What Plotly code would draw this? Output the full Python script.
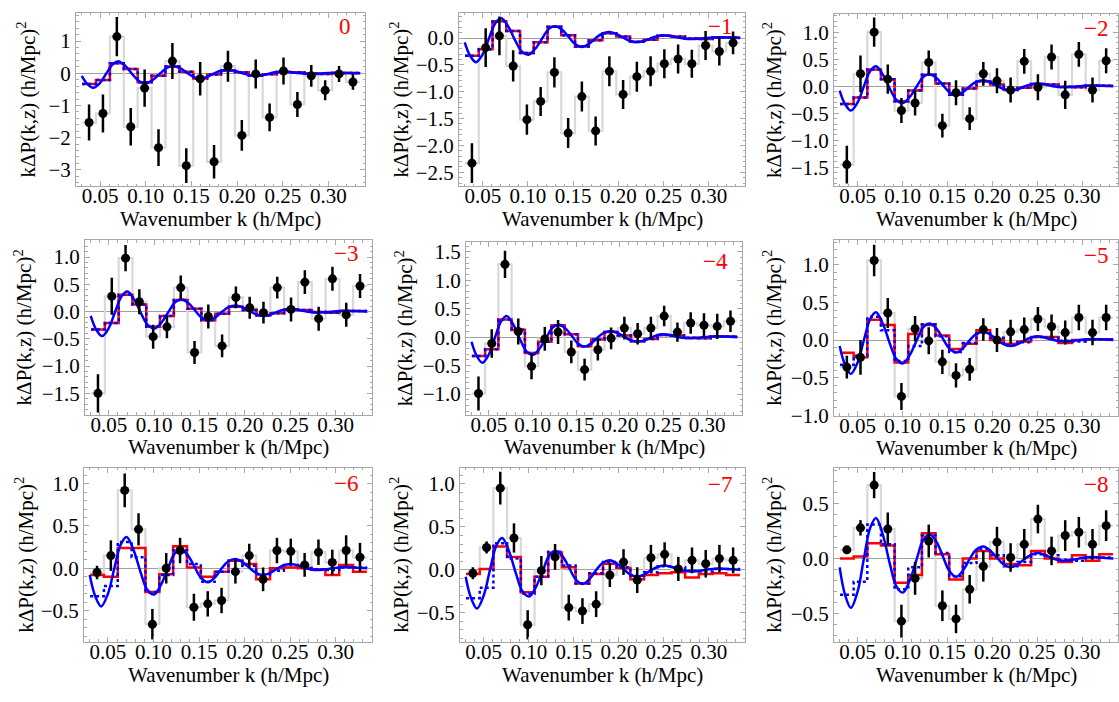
import plotly.graph_objects as go

# ---------------- data ----------------
K = [0.0380, 0.0532, 0.0684, 0.0836, 0.0988, 0.1140, 0.1292, 0.1444, 0.1596, 0.1748,
     0.1900, 0.2052, 0.2204, 0.2356, 0.2508, 0.2660, 0.2812, 0.2964, 0.3116, 0.3268]

P0 = [-1.53, -1.25, 1.14, -1.66, -0.46, -2.31, 0.38, -2.87, -0.17, -2.75,
      0.22, -1.93, -0.02, -1.37, 0.07, -0.97, -0.08, -0.53, -0.02, -0.27]
E0 = [0.56, 0.59, 0.61, 0.58, 0.58, 0.57, 0.56, 0.54, 0.52, 0.52,
      0.48, 0.48, 0.45, 0.43, 0.42, 0.39, 0.34, 0.31, 0.25, 0.24]

P1 = [-2.33, -0.18, 0.04, -0.52, -1.52, -1.18, -0.64, -1.77, -1.09, -1.73,
      -0.62, -1.05, -0.72, -0.62, -0.48, -0.39, -0.48, -0.14, -0.25, -0.09]
E1 = [0.37, 0.36, 0.36, 0.29, 0.28, 0.27, 0.28, 0.28, 0.28, 0.27,
      0.28, 0.27, 0.28, 0.28, 0.27, 0.27, 0.26, 0.27, 0.26, 0.21]

P2 = [-1.45, 0.23, 1.00, 0.13, -0.45, -0.31, 0.44, -0.73, -0.12, -0.60,
      0.23, 0.10, -0.07, 0.46, -0.02, 0.54, -0.16, 0.59, -0.07, 0.47]
E2 = [0.35, 0.34, 0.27, 0.27, 0.23, 0.23, 0.22, 0.22, 0.23, 0.21,
      0.22, 0.23, 0.23, 0.23, 0.24, 0.23, 0.26, 0.23, 0.23, 0.23]

P3 = [-1.50, 0.28, 0.98, 0.18, -0.46, -0.28, 0.44, -0.75, -0.09, -0.63,
      0.26, 0.07, -0.02, 0.44, 0.04, 0.54, -0.13, 0.60, -0.06, 0.47]
E3 = [0.35, 0.34, 0.24, 0.23, 0.22, 0.21, 0.22, 0.21, 0.22, 0.21,
      0.20, 0.20, 0.20, 0.20, 0.22, 0.22, 0.22, 0.22, 0.22, 0.22]

P4 = [-0.99, -0.11, 1.28, 0.10, -0.51, -0.03, 0.09, -0.26, -0.57, -0.22,
      -0.02, 0.16, 0.06, 0.16, 0.37, 0.09, 0.25, 0.21, 0.19, 0.28]
E4 = [0.30, 0.25, 0.24, 0.23, 0.23, 0.21, 0.21, 0.20, 0.19, 0.19,
      0.19, 0.20, 0.19, 0.20, 0.18, 0.17, 0.19, 0.21, 0.22, 0.19]

P5 = [-0.36, -0.23, 1.06, 0.36, -0.75, 0.15, -0.01, -0.29, -0.47, -0.39,
      0.14, 0.00, 0.11, 0.14, 0.28, 0.18, 0.10, 0.30, 0.10, 0.30]
E5 = [0.15, 0.23, 0.21, 0.20, 0.18, 0.17, 0.18, 0.16, 0.16, 0.15,
      0.15, 0.16, 0.16, 0.16, 0.16, 0.16, 0.16, 0.17, 0.17, 0.17]

P6 = [-0.05, 0.15, 0.92, 0.46, -0.66, 0.00, 0.21, -0.46, -0.42, -0.38,
      -0.04, 0.15, -0.13, 0.21, 0.20, 0.04, 0.19, 0.07, 0.21, 0.13]
E6 = [0.08, 0.18, 0.20, 0.19, 0.18, 0.18, 0.15, 0.16, 0.15, 0.15,
      0.14, 0.14, 0.14, 0.15, 0.15, 0.14, 0.15, 0.15, 0.18, 0.17]

P7 = [-0.04, 0.26, 0.95, 0.37, -0.64, -0.01, 0.15, -0.44, -0.48, -0.40,
      -0.06, 0.09, -0.12, 0.14, 0.18, 0.01, 0.11, 0.07, 0.13, 0.11]
E7 = [0.07, 0.07, 0.19, 0.17, 0.17, 0.17, 0.15, 0.15, 0.15, 0.15,
      0.14, 0.15, 0.15, 0.15, 0.14, 0.14, 0.15, 0.16, 0.16, 0.15]

P8 = [0.08, 0.28, 0.67, 0.27, -0.57, -0.18, 0.16, -0.43, -0.55, -0.28,
      -0.07, 0.15, 0.01, 0.13, 0.36, 0.07, 0.21, 0.24, 0.13, 0.30]
E8 = [0.02, 0.07, 0.12, 0.15, 0.15, 0.15, 0.15, 0.14, 0.13, 0.13,
      0.14, 0.14, 0.13, 0.14, 0.13, 0.13, 0.14, 0.14, 0.14, 0.14]

# binned model (red in panels 0..-4, blue dotted in all panels)
MODEL_BINNED = [-0.33, -0.21, 0.31, 0.13, -0.28, -0.08, 0.21, 0.05, -0.16, -0.04,
                0.09, 0.03, -0.07, -0.03, 0.04, 0.03, -0.01, -0.02, 0.01, 0.01]
RED5 = [-0.17, -0.23, 0.27, 0.20, -0.30, 0.08, 0.20, 0.06, -0.12, -0.05,
        0.13, 0.00, -0.05, -0.02, 0.04, 0.04, -0.04, 0.00, 0.01, 0.01]
RED6 = [-0.08, -0.10, 0.24, 0.24, -0.28, -0.07, 0.26, 0.01, -0.10, -0.04,
        0.09, 0.05, -0.13, 0.00, 0.01, 0.00, -0.01, -0.08, 0.04, -0.04]
RED7 = [-0.05, 0.01, 0.27, 0.15, -0.26, -0.08, 0.20, 0.03, -0.16, -0.05,
        0.07, 0.02, -0.11, -0.06, -0.04, -0.03, -0.09, -0.05, -0.04, -0.06]
RED8 = [0.00, 0.02, 0.14, 0.12, -0.22, -0.15, 0.23, 0.04, -0.19, 0.00,
        0.07, 0.00, -0.05, -0.06, 0.07, 0.00, -0.03, 0.03, -0.02, 0.04]

# smooth model curve (blue solid)
BLUE_K = [0.030, 0.036, 0.0425, 0.050, 0.057, 0.064, 0.0705, 0.078, 0.086, 0.093,
          0.1005, 0.108, 0.116, 0.123, 0.1305, 0.138, 0.145, 0.152, 0.160, 0.168,
          0.175, 0.182, 0.190, 0.198, 0.205, 0.212, 0.220, 0.228, 0.235, 0.242,
          0.250, 0.258, 0.265, 0.272, 0.280, 0.290, 0.300, 0.310, 0.320, 0.335]
BLUE_V = [-0.08, -0.33, -0.45, -0.30, 0.00, 0.28, 0.37, 0.22, -0.05, -0.25,
          -0.31, -0.20, 0.00, 0.17, 0.22, 0.15, 0.02, -0.11, -0.165, -0.10,
          0.00, 0.08, 0.11, 0.07, 0.01, -0.05, -0.08, -0.055, -0.01, 0.03,
          0.05, 0.035, 0.01, -0.01, -0.02, -0.01, 0.005, 0.015, 0.01, 0.00]

PANEL_LABELS = ["0", "\u22121", "\u22122", "\u22123", "\u22124",
                "\u22125", "\u22126", "\u22127", "\u22128"]
POINTS = [P0, P1, P2, P3, P4, P5, P6, P7, P8]
ERRORS = [E0, E1, E2, E3, E4, E5, E6, E7, E8]
REDS = [MODEL_BINNED, MODEL_BINNED, MODEL_BINNED, MODEL_BINNED, MODEL_BINNED,
        RED5, RED6, RED7, RED8]

# ---------------- geometry / style ----------------
W, H = 1119, 702
FRAMES = [  # (left, right, top, bottom) in px
    (76, 365, 11, 188), (459, 745, 11, 188), (834, 1118, 12, 188),
    (85, 372, 243, 421), (466, 742, 245, 421), (834, 1118, 243, 422),
    (84, 372, 475, 653), (460, 745, 475, 653), (834, 1118, 475, 653),
]
YRANGES = [(-3.51, 1.88), (-2.76, 0.47), (-1.85, 1.34), (-1.89, 1.31), (-1.36, 1.67),
           (-1.005, 1.33), (-0.87, 1.19), (-0.84, 1.19), (-0.76, 0.83)]
YTITLE_X = [27, 400, 772, 23, 404, 773, 25, 400, 773]
LABEL_POS = [(345, 25), (720, 25), (1096, 27), (346, 257), (716, 265), (1096, 259),
             (346, 491), (720, 492), (1096, 492)]
XRANGE = (0.0237, 0.340)

FONT = "Liberation Serif"
GREY = "#d9d9d9"
FRAME_C = "#a8a8a8"

fig = go.Figure()

dk = K[1] - K[0]
xs_step = [K[0] - dk / 2] + K + [K[-1] + dk / 2]


def ext(v):
    return [v[0]] + list(v) + [v[-1]]


annotations = []
for i in range(9):
    n = "" if i == 0 else str(i + 1)
    xa, ya = "x" + n, "y" + n
    fig.add_trace(go.Scatter(x=xs_step, y=ext(POINTS[i]), mode="lines", line_shape="hvh",
                             line=dict(color=GREY, width=2.2), xaxis=xa, yaxis=ya,
                             showlegend=False, hoverinfo="skip"))
    fig.add_trace(go.Scatter(x=xs_step, y=ext(REDS[i]), mode="lines", line_shape="hvh",
                             line=dict(color="#ff0000", width=2.5), xaxis=xa, yaxis=ya,
                             showlegend=False, hoverinfo="skip"))
    fig.add_trace(go.Scatter(x=xs_step, y=ext(MODEL_BINNED), mode="lines", line_shape="hvh",
                             line=dict(color="#0000ff", width=2.5, dash="dot"),
                             xaxis=xa, yaxis=ya, showlegend=False, hoverinfo="skip"))
    fig.add_trace(go.Scatter(x=BLUE_K, y=BLUE_V, mode="lines", line_shape="spline",
                             line=dict(color="#0000ff", width=2.5, smoothing=1.0),
                             xaxis=xa, yaxis=ya, showlegend=False, hoverinfo="skip"))
    fig.add_trace(go.Scatter(x=K, y=POINTS[i], mode="markers",
                             marker=dict(color="black", size=9),
                             error_y=dict(type="data", array=ERRORS[i], color="black",
                                          thickness=2.5, width=0),
                             xaxis=xa, yaxis=ya, showlegend=False))

    l, r, t, b = FRAMES[i]
    dx = [l / W, r / W]
    dy = [1 - b / H, 1 - t / H]
    yfmt = "d" if i == 0 else ".1f"
    ydt = 1 if i == 0 else 0.5
    ymin = 0.2 if i == 0 else 0.1
    fig.update_layout(**{
        "xaxis" + n: dict(domain=dx, range=list(XRANGE), anchor=ya,
                          tickmode="linear", tick0=0.05, dtick=0.05, tickformat=".2f",
                          showline=True, linecolor=FRAME_C, linewidth=1, mirror="ticks",
                          ticks="inside", ticklen=5, tickcolor=FRAME_C,
                          ticklabelstandoff=-9,
                          minor=dict(ticks="inside", ticklen=2.5, dtick=0.01,
                                     tickcolor=FRAME_C),
                          showgrid=False, zeroline=False,
                          tickfont=dict(family=FONT, size=21, color="black")),
        "yaxis" + n: dict(domain=dy, range=list(YRANGES[i]), anchor=xa,
                          tickmode="linear", tick0=0, dtick=ydt, tickformat=yfmt,
                          showline=True, linecolor=FRAME_C, linewidth=1, mirror="ticks",
                          ticks="inside", ticklen=5, tickcolor=FRAME_C,
                          minor=dict(ticks="inside", ticklen=2.5, dtick=ymin,
                                     tickcolor=FRAME_C),
                          showgrid=False, zeroline=True, zerolinecolor="#a0a0a0",
                          zerolinewidth=1,
                          tickfont=dict(family=FONT, size=21, color="black")),
    })
    annotations.append(dict(text="Wavenumber k (h/Mpc)", xref="paper", yref="paper",
                            x=(l + r) / 2 / W, y=1 - (b + 19) / H, xanchor="center",
                            yanchor="top", showarrow=False,
                            font=dict(family=FONT, size=21, color="black")))
    annotations.append(dict(text="k\u0394P(k,z) (h/Mpc)<sup>2</sup>", xref="paper",
                            yref="paper", x=YTITLE_X[i] / W, y=1 - (t + b) / 2 / H,
                            xanchor="center", yanchor="middle", textangle=-90,
                            showarrow=False,
                            font=dict(family=FONT, size=21, color="black")))
    lx, ly = LABEL_POS[i]
    annotations.append(dict(text=PANEL_LABELS[i], xref="paper", yref="paper",
                            x=lx / W, y=1 - ly / H, xanchor="center", yanchor="middle",
                            showarrow=False,
                            font=dict(family=FONT, size=23, color="#ff0000")))

fig.update_layout(width=W, height=H, margin=dict(l=0, r=0, t=0, b=0),
                  paper_bgcolor="white", plot_bgcolor="white",
                  annotations=annotations, showlegend=False)

fig.write_html("out.html")
